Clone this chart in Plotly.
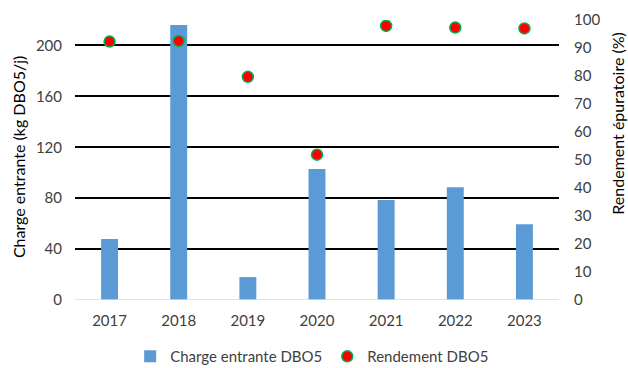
import plotly.graph_objects as go

years = ["2017", "2018", "2019", "2020", "2021", "2022", "2023"]
charge = [48, 216, 18, 103, 78.5, 88.5, 59.5]
rendement = [92.3, 92.5, 79.7, 51.9, 97.9, 97.3, 97.0]
left_ticks = [0, 40, 80, 120, 160, 200]
right_ticks = [0, 10, 20, 30, 40, 50, 60, 70, 80, 90, 100]

FONT = "Lato"
TXT = "#404040"

fig = go.Figure()
fig.add_trace(go.Bar(
    x=years, y=charge, name="Charge entrante DBO5",
    marker=dict(color="#5B9BD5", line=dict(width=0)),
    yaxis="y",
))
fig.add_trace(go.Scatter(
    x=years, y=rendement, name="Rendement DBO5", mode="markers",
    marker=dict(color="#FF0000", size=11, line=dict(color="#00B050", width=1.5)),
    yaxis="y2",
))

fig.update_layout(
    width=628, height=368,
    margin=dict(l=75, r=69, t=20, b=68, autoexpand=False),
    paper_bgcolor="white", plot_bgcolor="white",
    font=dict(family=FONT, size=15, color=TXT),
    bargap=0.755,
    showlegend=True,
    legend=dict(orientation="h", x=0.49, xanchor="center",
                yref="container", y=0.031, yanchor="middle",
                font=dict(size=15, color=TXT), itemwidth=30),
    xaxis=dict(type="category", showgrid=False, showline=False, ticks="",
               ticklabelstandoff=10, tickfont=dict(size=15, color=TXT)),
    yaxis=dict(range=[0, 220], tickvals=left_ticks, showgrid=True, gridcolor="#000000",
               gridwidth=1.6, zeroline=False, showline=False, ticks="",
               ticklabelstandoff=12, tickfont=dict(size=15, color=TXT)),
    yaxis2=dict(range=[0, 100], tickvals=right_ticks, overlaying="y", side="right",
                showgrid=False, zeroline=False, showline=False, ticks="",
                ticklabelstandoff=14, tickfont=dict(size=15, color=TXT)),
    shapes=[dict(type="line", xref="paper", yref="y", x0=0, x1=1, y0=0, y1=0,
                 line=dict(color="#D9D9D9", width=1.5), layer="above")],
    annotations=[
        dict(text="Charge entrante (kg DBO5/j)", xref="paper", yref="paper",
             x=-0.118, y=0.51, xanchor="center", yanchor="middle", textangle=-90,
             showarrow=False, font=dict(size=16, color="#000000")),
        dict(text="Rendement épuratoire (%)", xref="paper", yref="paper",
             x=1.122, y=0.63, xanchor="center", yanchor="middle", textangle=-90,
             showarrow=False, font=dict(size=16, color="#000000")),
    ],
)

fig.write_html("out.html")
